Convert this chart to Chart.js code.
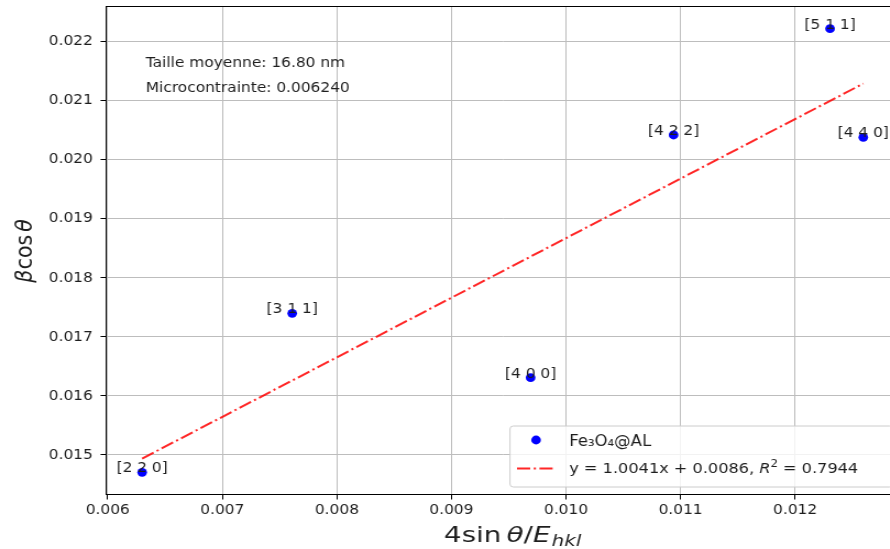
<!DOCTYPE html>
<html>
<head>
<meta charset="utf-8">
<script src="https://cdn.jsdelivr.net/npm/chart.js@4/dist/chart.umd.min.js"></script>
<style>
  html, body { margin: 0; padding: 0; width: 890px; height: 549px; overflow: hidden; background: #fff; }
  /* the reference is a little wider than tall, so the chart is drawn narrow and stretched */
  #c { position: absolute; left: 0; top: 0; width: 822px; height: 549px; transform: scaleX(1.1); transform-origin: 0 0; }
</style>
</head>
<body>
<canvas id="c" width="822" height="549"></canvas>
<script>
// Williamson-Hall: one point per reflection
const hkl   = ['[2 2 0]', '[3 1 1]', '[4 0 0]', '[4 2 2]', '[5 1 1]', '[4 4 0]'];
const xVals = [0.00630, 0.00761, 0.009691, 0.010939, 0.012305, 0.012595];
const yVals = [0.014707, 0.01740, 0.016309, 0.020420, 0.022220, 0.020381];

// fitted line, both ends
const fitX = [0.00630, 0.012595];
const fitY = [0.01494, 0.02129];

const xTicks = [0.006, 0.007, 0.008, 0.009, 0.010, 0.011, 0.012];
const yTicks = [0.015, 0.016, 0.017, 0.018, 0.019, 0.020, 0.021, 0.022];

const seriesName = 'Fe₃O₄@AL';
const fitLabel   = ['y = 1.0041x + 0.0086, ', 'R', '2', ' = 0.7944'];
const infoLines  = ['Taille moyenne: 16.80 nm', 'Microcontrainte: 0.006240'];

const FONT = '"DejaVu Sans"';
const TXT  = '#1e1e1e';
const DASH = [12, 3.2, 2, 3.2];

// draws a run of text pieces with their own fonts, returns width
function drawParts(ctx, parts, x, y, measureOnly) {
  let cx = x;
  for (const p of parts) {
    ctx.font = p.font;
    if (!measureOnly) ctx.fillText(p.text, cx, y + (p.dy || 0));
    cx += ctx.measureText(p.text).width + (p.gap || 0);
  }
  return cx - x;
}

const decor = {
  id: 'decor',
  afterDatasetsDraw(chart) {
    const { ctx, chartArea: a, scales: { x, y } } = chart;
    ctx.save();
    ctx.fillStyle = TXT;
    ctx.textBaseline = 'alphabetic';

    // reflection labels, centred on the point
    ctx.font = '14px ' + FONT;
    ctx.textAlign = 'center';
    hkl.forEach((t, i) => {
      ctx.fillText(t, x.getPixelForValue(xVals[i]), y.getPixelForValue(yVals[i]));
    });

    // fit summary
    ctx.textAlign = 'left';
    ctx.fillText(infoLines[0], 132.5, 66.7);
    ctx.fillText(infoLines[1], 132.5, 92);

    // top and right spines
    ctx.strokeStyle = '#000';
    ctx.lineWidth = 1;
    ctx.beginPath();
    ctx.moveTo(a.left, a.top);
    ctx.lineTo(a.right, a.top);
    ctx.lineTo(a.right, a.bottom);
    ctx.stroke();
    ctx.restore();
  },
  afterDraw(chart) {
    const { ctx } = chart;
    ctx.save();

    // legend frame
    ctx.fillStyle = 'rgba(255,255,255,0.8)';
    ctx.strokeStyle = '#cccccc';
    ctx.lineWidth = 1;
    ctx.beginPath();
    ctx.roundRect(463.6, 426, 348, 61, 3);
    ctx.fill();
    ctx.stroke();

    ctx.fillStyle = '#0000ff';
    ctx.beginPath();
    ctx.arc(487.3, 440, 4.4, 0, Math.PI * 2);
    ctx.fill();

    ctx.strokeStyle = 'rgba(255,0,0,0.85)';
    ctx.lineWidth = 2;
    ctx.setLineDash(DASH);
    ctx.beginPath();
    ctx.moveTo(470, 468.5);
    ctx.lineTo(502.7, 468.5);
    ctx.stroke();
    ctx.setLineDash([]);

    ctx.fillStyle = TXT;
    ctx.textAlign = 'left';
    ctx.textBaseline = 'alphabetic';
    ctx.font = '15px ' + FONT;
    ctx.fillText(seriesName, 517.5, 446.3);
    drawParts(ctx, [
      { text: fitLabel[0], font: '14.7px ' + FONT },
      { text: fitLabel[1], font: 'italic 14.7px ' + FONT },
      { text: fitLabel[2], font: '10.5px ' + FONT, dy: -6 },
      { text: fitLabel[3], font: '14.7px ' + FONT }
    ], 517.5, 473);

    // x axis title (mathtext renders it wider, so it is widened a little)
    const xt = [
      { text: '4sin', font: '21px ' + FONT, gap: 4 },
      { text: 'θ', font: 'italic 21px ' + FONT },
      { text: '/', font: '21px ' + FONT },
      { text: 'E', font: 'italic 21px ' + FONT, gap: 1 },
      { text: 'hkl', font: 'italic 15px ' + FONT, dy: 4 }
    ];
    const xw = drawParts(ctx, xt, 0, 0, true);
    ctx.save();
    ctx.translate(466, 541.5);
    ctx.scale(1.2, 1);
    drawParts(ctx, xt, -xw / 2, 0);
    ctx.restore();

    // y axis title
    const yt = [
      { text: 'β', font: 'italic 20.5px ' + FONT, gap: 0.5 },
      { text: 'cos', font: '20.5px ' + FONT, gap: 3 },
      { text: 'θ', font: 'italic 20.5px ' + FONT }
    ];
    const yw = drawParts(ctx, yt, 0, 0, true);
    ctx.translate(28.8, 251);
    ctx.rotate(-Math.PI / 2);
    drawParts(ctx, yt, -yw / 2, 0);
    ctx.restore();
  }
};

const tickFont = { family: FONT, size: 14 };

new Chart(document.getElementById('c'), {
  type: 'scatter',
  data: {
    datasets: [
      {
        label: seriesName,
        data: xVals.map((v, i) => ({ x: v, y: yVals[i] })),
        backgroundColor: '#0000ff',
        borderWidth: 0,
        pointRadius: 4.4,
        pointHoverRadius: 4.4
      },
      {
        type: 'line',
        label: 'fit',
        data: fitX.map((v, i) => ({ x: v, y: fitY[i] })),
        borderColor: 'rgba(255,0,0,0.85)',
        borderWidth: 2,
        borderDash: DASH,
        pointRadius: 0,
        fill: false
      }
    ]
  },
  options: {
    responsive: false,
    animation: false,
    devicePixelRatio: 1,
    layout: { padding: { top: 6.5, right: 3.7, left: 0, bottom: 0 } },
    plugins: { legend: { display: false }, tooltip: { enabled: false } },
    scales: {
      x: {
        type: 'linear',
        min: 0.005985,
        max: 0.01291,
        afterBuildTicks: s => { s.ticks = xTicks.map(v => ({ value: v })); },
        afterFit: s => { s.height = 54.5; s.paddingLeft = 0; s.paddingRight = 0; },
        ticks: { callback: v => v.toFixed(3), font: tickFont, color: TXT, padding: 2, maxRotation: 0, autoSkip: false },
        grid: { color: '#bdbdbd', lineWidth: 1, tickLength: 5, tickColor: '#000' },
        border: { color: '#000', width: 1 }
      },
      y: {
        type: 'linear',
        min: 0.014331,
        max: 0.022596,
        afterBuildTicks: s => { s.ticks = yTicks.map(v => ({ value: v })); },
        afterFit: s => { s.width = 96.4; s.paddingTop = 0; s.paddingBottom = 0; },
        ticks: { callback: v => v.toFixed(3), font: tickFont, color: TXT, padding: 7, autoSkip: false },
        grid: { color: '#bdbdbd', lineWidth: 1, tickLength: 5, tickColor: '#000' },
        border: { color: '#000', width: 1 }
      }
    }
  },
  plugins: [decor]
});
</script>
</body>
</html>
